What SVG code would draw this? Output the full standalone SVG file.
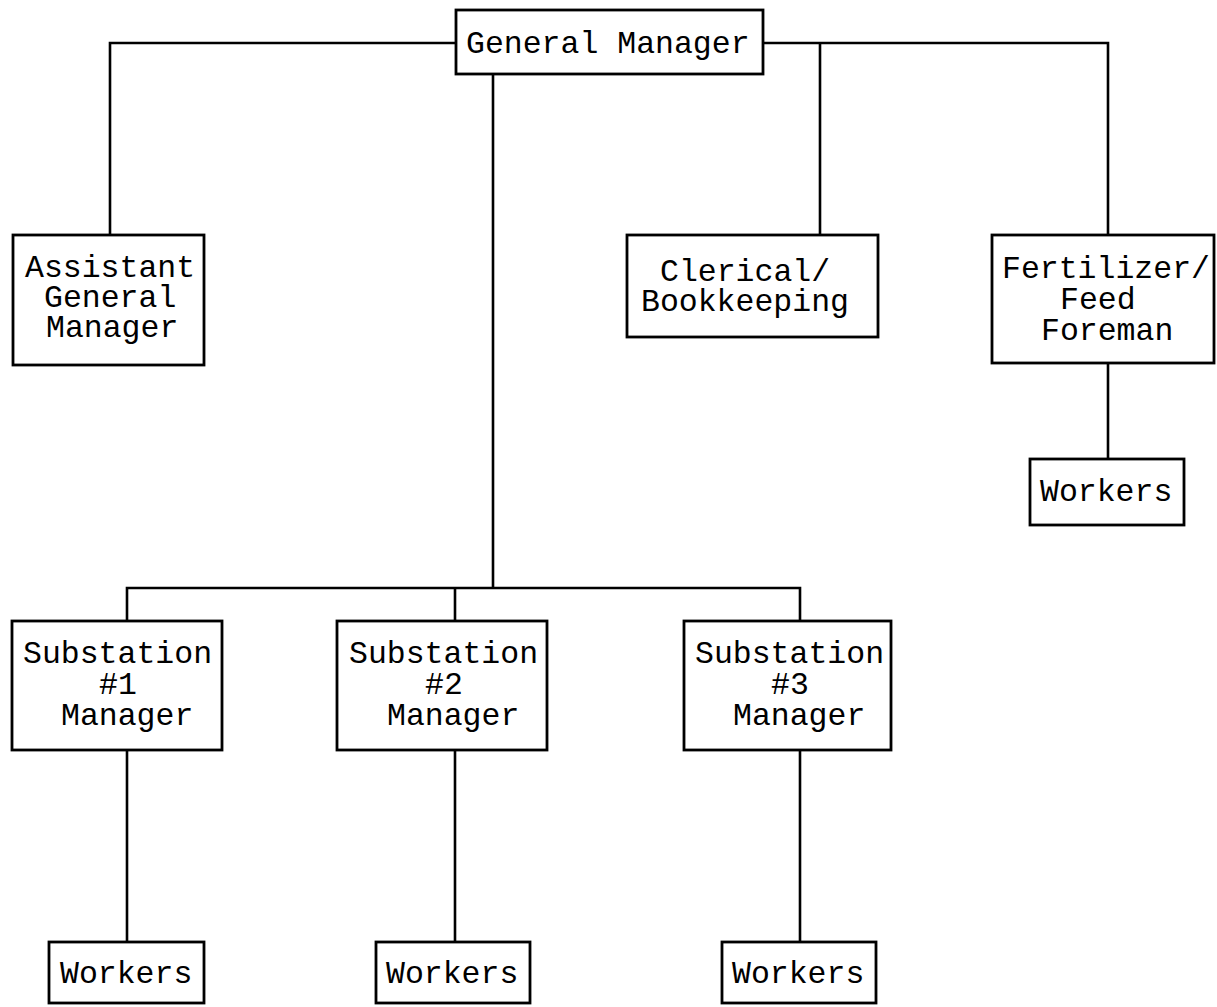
<svg xmlns="http://www.w3.org/2000/svg" width="1217" height="1007" viewBox="0 0 1217 1007">
<style>
.box{fill:#fff;stroke:#000;stroke-width:2.8}
.ln{fill:none;stroke:#000;stroke-width:2.6}
text{font-family:"Liberation Mono","Courier New",monospace;font-size:31.5px;fill:#000}
</style>
<rect width="1217" height="1007" fill="#fff"/>
<g id="connectors">
<path class="ln" d="M110,235 V43 H456 M763,43 H1108 V235 M820,43 V235"/>
<path class="ln" d="M493,74 V588 M127,621 V588 H800 V621 M455,588 V621"/>
<path class="ln" d="M1108,363 V459"/>
<path class="ln" d="M127,750 V942 M455,750 V942 M800,750 V942"/>
</g>
<g id="gm"><rect class="box" x="456" y="10" width="307" height="64"/><text x="466" y="53">General Manager</text></g>
<g id="agm"><rect class="box" x="13" y="235" width="191" height="130"/>
<text x="25" y="277">Assistant</text><text x="44" y="307">General</text><text x="46" y="337">Manager</text></g>
<g id="clerical"><rect class="box" x="627" y="235" width="251" height="102"/>
<text x="660" y="281">Clerical/</text><text x="641" y="311">Bookkeeping</text></g>
<g id="fert"><rect class="box" x="992" y="235" width="222" height="128"/>
<text x="1002" y="278">Fertilizer/</text><text x="1060" y="309">Feed</text><text x="1041" y="340">Foreman</text></g>
<g id="fert-workers"><rect class="box" x="1030" y="459" width="154" height="66"/><text x="1040" y="501">Workers</text></g>
<g id="sub1"><rect class="box" x="12" y="621" width="210" height="129"/>
<text x="23" y="663">Substation</text><text x="99" y="694">#1</text><text x="61" y="725">Manager</text></g>
<g id="sub2"><rect class="box" x="337" y="621" width="210" height="129"/>
<text x="349" y="663">Substation</text><text x="425" y="694">#2</text><text x="387" y="725">Manager</text></g>
<g id="sub3"><rect class="box" x="684" y="621" width="207" height="129"/>
<text x="695" y="663">Substation</text><text x="771" y="694">#3</text><text x="733" y="725">Manager</text></g>
<g id="w1"><rect class="box" x="49" y="942" width="155" height="61"/><text x="60" y="983">Workers</text></g>
<g id="w2"><rect class="box" x="376" y="942" width="154" height="61"/><text x="386" y="983">Workers</text></g>
<g id="w3"><rect class="box" x="722" y="942" width="154" height="61"/><text x="732" y="983">Workers</text></g>
</svg>
